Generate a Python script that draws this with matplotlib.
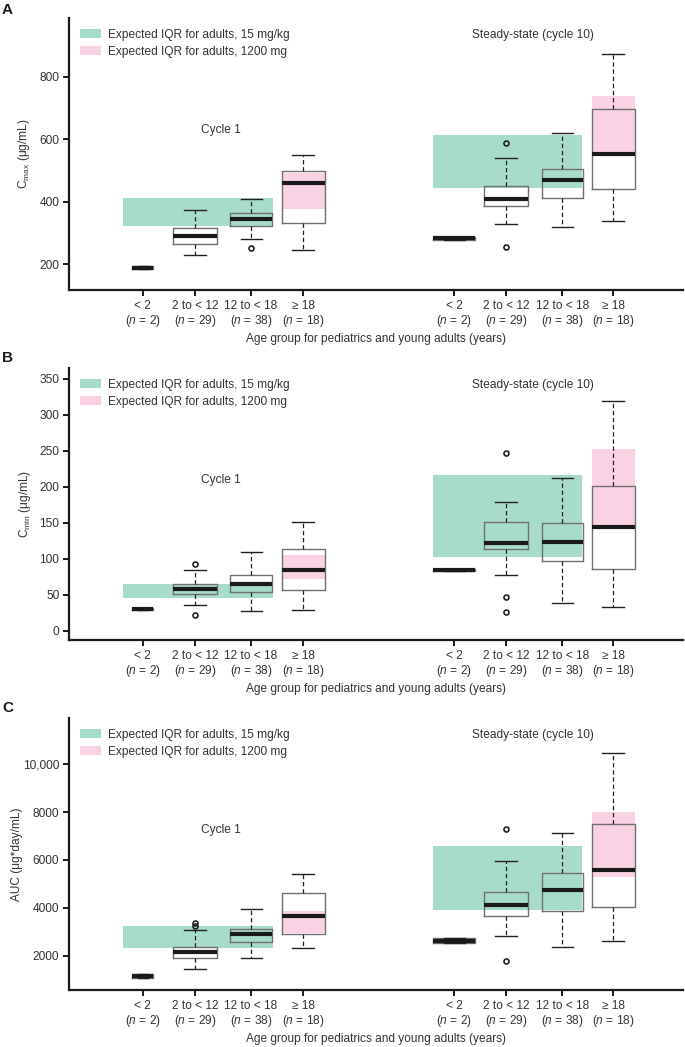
import matplotlib
matplotlib.use("Agg")
import matplotlib.pyplot as plt
from matplotlib.patches import Patch
from matplotlib.ticker import FixedLocator, FixedFormatter

plt.rcParams['font.family'] = ['Liberation Sans', 'DejaVu Sans']
plt.rcParams['mathtext.fontset'] = 'custom'
plt.rcParams['mathtext.rm'] = 'Liberation Sans'
plt.rcParams['mathtext.it'] = 'Liberation Sans:italic'
plt.rcParams['mathtext.bf'] = 'Liberation Sans:bold'

# ---------------- data ----------------
groups = ["< 2", "2 to < 12", "12 to < 18", "\u2265 18"]
n_counts = [2, 29, 38, 18]
phases = ["Cycle 1", "Steady-state (cycle 10)"]
legend_labels = ["Expected IQR for adults, 15 mg/kg", "Expected IQR for adults, 1200 mg"]
xlabel_text = "Age group for pediatrics and young adults (years)"

# Panel A: Cmax (ug/mL)
cmax_c1_q1 = [184, 265, 322, 333]
cmax_c1_med = [189, 289, 344, 459]
cmax_c1_q3 = [195, 316, 365, 499]
cmax_c1_wlo = [184, 230, 280, 244]
cmax_c1_whi = [195, 374, 407, 550]
cmax_c1_fliers = [[], [], [250], []]
cmax_ss_q1 = [276, 387, 412, 439]
cmax_ss_med = [282, 410, 468, 551]
cmax_ss_q3 = [288, 449, 506, 698]
cmax_ss_wlo = [276, 329, 318, 337]
cmax_ss_whi = [288, 541, 620, 872]
cmax_ss_fliers = [[], [255, 588], [], []]
cmax_c1_band_kg = [322, 413]
cmax_c1_band_mg = [376, 493]
cmax_ss_band_kg = [444, 614]
cmax_ss_band_mg = [548, 737]
cmax_ticks = [200, 400, 600, 800]
cmax_ticklabels = ["200", "400", "600", "800"]

# Panel B: Cmin (ug/mL)
cmin_c1_q1 = [28.5, 50.7, 53.4, 56.7]
cmin_c1_med = [29.8, 57.6, 65.5, 84.5]
cmin_c1_q3 = [31, 65.5, 77, 113.3]
cmin_c1_wlo = [28.5, 35.4, 27.4, 28.4]
cmin_c1_whi = [31, 84.5, 108.6, 150.4]
cmin_c1_fliers = [[], [21.4, 92.9], [], []]
cmin_ss_q1 = [83.5, 112.8, 97, 86.3]
cmin_ss_med = [84.5, 121.7, 122.6, 143.4]
cmin_ss_q3 = [85.5, 151, 149, 201]
cmin_ss_wlo = [83.5, 77.6, 38.1, 33]
cmin_ss_whi = [85.5, 179.2, 212.6, 319.5]
cmin_ss_fliers = [[], [26.5, 47.4, 246.5], [], []]
cmin_c1_band_kg = [45, 65]
cmin_c1_band_mg = [72, 105]
cmin_ss_band_kg = [102, 216]
cmin_ss_band_mg = [142, 252.6]
cmin_ticks = [0, 50, 100, 150, 200, 250, 300, 350]
cmin_ticklabels = ["0", "50", "100", "150", "200", "250", "300", "350"]

# Panel C: AUC (ug*day/mL)
auc_c1_q1 = [1070, 1891, 2560, 2920]
auc_c1_med = [1150, 2167, 2920, 3647]
auc_c1_q3 = [1230, 2376, 3129, 4609]
auc_c1_wlo = [1070, 1456, 1916, 2334]
auc_c1_whi = [1230, 3062, 3952, 5429]
auc_c1_fliers = [[], [3250, 3360], [], []]
auc_ss_q1 = [2520, 3672, 3869, 4024]
auc_ss_med = [2627, 4120, 4747, 5570]
auc_ss_q3 = [2720, 4651, 5445, 7494]
auc_ss_wlo = [2520, 2836, 2376, 2602]
auc_ss_whi = [2720, 5959, 7143, 10446]
auc_ss_fliers = [[], [1766, 7297], [], []]
auc_c1_band_kg = [2310, 3242]
auc_c1_band_mg = [2937, 3869]
auc_ss_band_kg = [3898, 6599]
auc_ss_band_mg = [5303, 7996]
auc_ticks = [2000, 4000, 6000, 8000, 10000]
auc_ticklabels = ["2000", "4000", "6000", "8000", "10,000"]

# ---------------- layout / style ----------------
pos_c1 = [1.4, 2.4, 3.48, 4.48]
pos_ss = [7.38, 8.38, 9.46, 10.44]
wid_c1 = [0.40, 0.83, 0.81, 0.83]
wid_ss = [0.81, 0.83, 0.79, 0.83]
band_x_c1_kg = (1.02, 3.90)
band_x_c1_mg = (4.07, 4.90)
band_x_ss_kg = (6.98, 9.84)
band_x_ss_mg = (10.03, 10.86)
XLIM = (-0.02, 11.78)

GREEN = "#a7dbca"
PINK = "#f9d3e4"
TXT = "#333333"
FS = 8.6

panels = [
    dict(letter="A", rect=[69, 18, 683, 290], ylim=(117, 988),
         ylabel="C$_{\\mathregular{max}}$ (\u03bcg/mL)", ylabel_x=-0.06,
         ticks=cmax_ticks, ticklabels=cmax_ticklabels,
         c1=(cmax_c1_q1, cmax_c1_med, cmax_c1_q3, cmax_c1_wlo, cmax_c1_whi, cmax_c1_fliers),
         ss=(cmax_ss_q1, cmax_ss_med, cmax_ss_q3, cmax_ss_wlo, cmax_ss_whi, cmax_ss_fliers),
         bands=(cmax_c1_band_kg, cmax_c1_band_mg, cmax_ss_band_kg, cmax_ss_band_mg),
         letter_y=10),
    dict(letter="B", rect=[69, 368, 683, 640], ylim=(-13, 365),
         ylabel="C$_{\\mathregular{min}}$ (\u03bcg/mL)", ylabel_x=-0.058,
         ticks=cmin_ticks, ticklabels=cmin_ticklabels,
         c1=(cmin_c1_q1, cmin_c1_med, cmin_c1_q3, cmin_c1_wlo, cmin_c1_whi, cmin_c1_fliers),
         ss=(cmin_ss_q1, cmin_ss_med, cmin_ss_q3, cmin_ss_wlo, cmin_ss_whi, cmin_ss_fliers),
         bands=(cmin_c1_band_kg, cmin_c1_band_mg, cmin_ss_band_kg, cmin_ss_band_mg),
         letter_y=358),
    dict(letter="C", rect=[69, 718, 683, 990], ylim=(566, 11926),
         ylabel="AUC (\u03bcg*day/mL)", ylabel_x=-0.075,
         ticks=auc_ticks, ticklabels=auc_ticklabels,
         c1=(auc_c1_q1, auc_c1_med, auc_c1_q3, auc_c1_wlo, auc_c1_whi, auc_c1_fliers),
         ss=(auc_ss_q1, auc_ss_med, auc_ss_q3, auc_ss_wlo, auc_ss_whi, auc_ss_fliers),
         bands=(auc_c1_band_kg, auc_c1_band_mg, auc_ss_band_kg, auc_ss_band_mg),
         letter_y=708),
]

W, H = 685, 1047
fig = plt.figure(figsize=(W / 100, H / 100), dpi=100)

tick_labels = [f"{g}\n($n$ = {n})" for g, n in zip(groups, n_counts)] * 2


def make_stats(q1, med, q3, wlo, whi, fl):
    return [dict(q1=a, med=b, q3=c, whislo=d, whishi=e, fliers=f)
            for a, b, c, d, e, f in zip(q1, med, q3, wlo, whi, fl)]


for p in panels:
    l, t, r, b = p["rect"]
    ax = fig.add_axes([l / W, 1 - b / H, (r - l) / W, (b - t) / H])
    stats = make_stats(*p["c1"]) + make_stats(*p["ss"])
    positions = pos_c1 + pos_ss
    widths = wid_c1 + wid_ss
    capw = [w * 0.5 for w in widths]

    # white box faces (below bands)
    ax.bxp(stats, positions=positions, widths=widths, patch_artist=True,
           showfliers=False, showcaps=False,
           boxprops=dict(facecolor="white", edgecolor="none", linewidth=0),
           whiskerprops=dict(linewidth=0), medianprops=dict(linewidth=0),
           zorder=1, manage_ticks=False)

    # expected adult IQR bands
    bkg1, bmg1, bkg2, bmg2 = p["bands"]
    for (x0, x1), (y0, y1), col in [(band_x_c1_kg, bkg1, GREEN), (band_x_c1_mg, bmg1, PINK),
                                     (band_x_ss_kg, bkg2, GREEN), (band_x_ss_mg, bmg2, PINK)]:
        ax.fill_between([x0, x1], y0, y1, color=col, linewidth=0, zorder=2)

    # outlines, whiskers, medians
    ax.bxp(stats, positions=positions, widths=widths, capwidths=capw,
           patch_artist=False,
           boxprops=dict(color="#707070", linewidth=1.0),
           whiskerprops=dict(color="#222222", linewidth=0.9, linestyle=(0, (3.5, 2.2))),
           capprops=dict(color="#222222", linewidth=1.0),
           medianprops=dict(color="#1a1a1a", linewidth=3.0, solid_capstyle="butt"),
           flierprops=dict(marker="o", markersize=3.6, markerfacecolor="none",
                           markeredgecolor="#222222", markeredgewidth=1.2),
           zorder=3, manage_ticks=False)

    ax.set_xlim(*XLIM)
    ax.set_ylim(*p["ylim"])
    ax.xaxis.set_major_locator(FixedLocator(positions))
    ax.xaxis.set_major_formatter(FixedFormatter(tick_labels))
    ax.yaxis.set_major_locator(FixedLocator(p["ticks"]))
    ax.yaxis.set_major_formatter(FixedFormatter(p["ticklabels"]))
    for s in ["top", "right"]:
        ax.spines[s].set_visible(False)
    for s in ["left", "bottom"]:
        ax.spines[s].set_linewidth(1.6)
        ax.spines[s].set_color("#1a1a1a")
    ax.tick_params(axis="both", direction="out", length=4, width=1.4, colors="#1a1a1a",
                   labelcolor=TXT, labelsize=FS, pad=3)
    ax.tick_params(axis="x", pad=3)
    for lab in ax.get_xticklabels():
        lab.set_linespacing(1.1)

    ax.set_xlabel(xlabel_text, fontsize=FS, color=TXT, labelpad=3)
    ax.set_ylabel(p["ylabel"], fontsize=FS, color=TXT)
    ax.yaxis.set_label_coords(p["ylabel_x"], 0.5)

    ax.text(2.89, 0.589, phases[0], transform=ax.get_xaxis_transform(),
            ha="center", va="center", fontsize=FS, color=TXT)
    ax.text(8.89, 0.938, phases[1], transform=ax.get_xaxis_transform(),
            ha="center", va="center", fontsize=FS, color=TXT)

    handles = [Patch(facecolor=GREEN, edgecolor="none"), Patch(facecolor=PINK, edgecolor="none")]
    ax.legend(handles, legend_labels, loc="upper left", bbox_to_anchor=(0.005, 0.992),
              frameon=False, fontsize=FS, handlelength=1.7, handleheight=0.8,
              handletextpad=0.6, labelspacing=0.45, borderaxespad=0.3,
              labelcolor=TXT)

    fig.text(2 / W, 1 - p["letter_y"] / H, p["letter"], fontsize=11, fontweight="bold",
             color="#1a1a1a", ha="left", va="center")

fig.savefig("out.png", dpi=100)
